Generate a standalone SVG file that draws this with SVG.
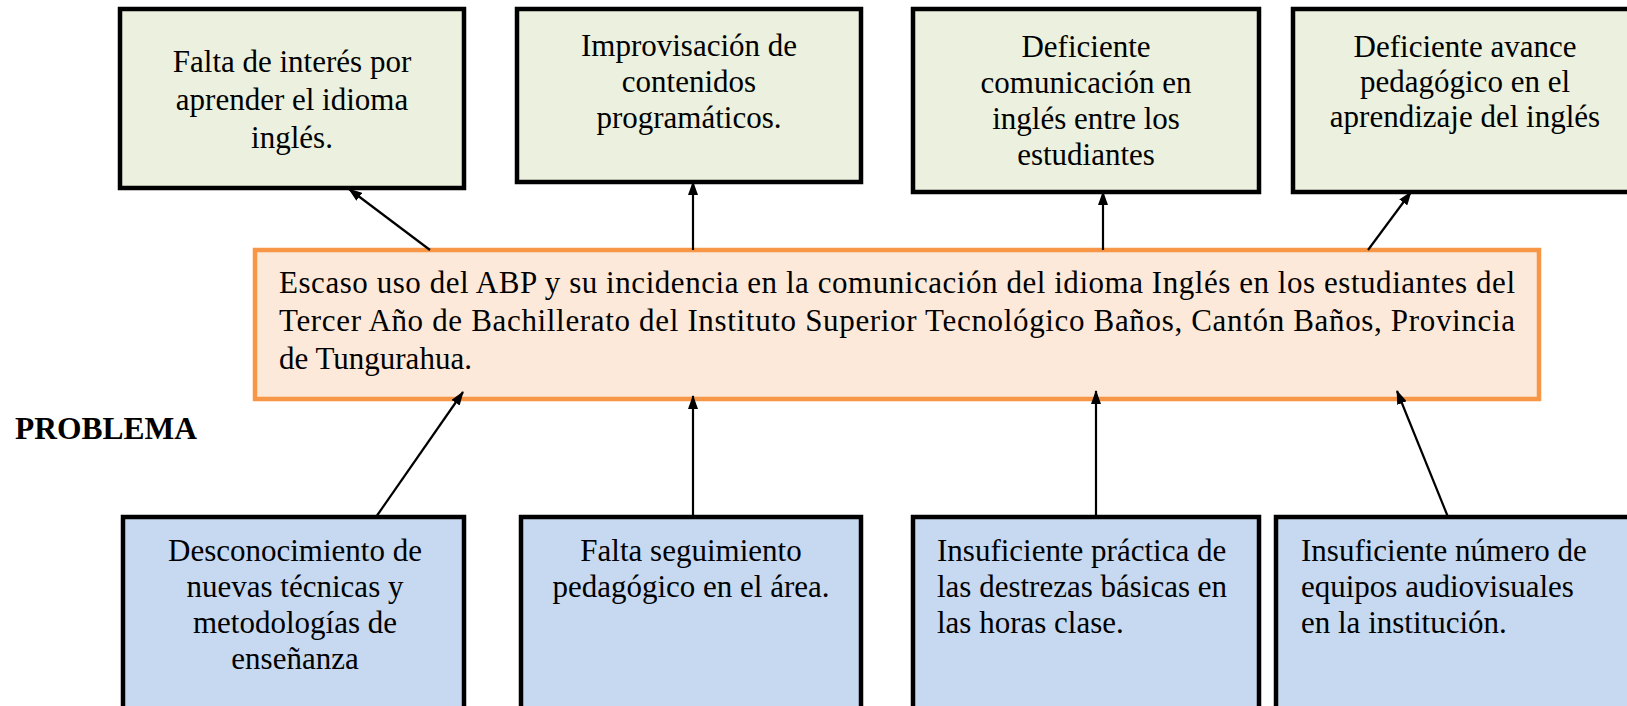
<svg xmlns="http://www.w3.org/2000/svg" width="1627" height="706" viewBox="0 0 1627 706">
<style>
text{font-family:"Liberation Serif","Times New Roman",serif;font-size:31px;fill:#000}
.eff{fill:#EBF1DE;stroke:#000;stroke-width:4.5}
.cau{fill:#C6D9F1;stroke:#000;stroke-width:4.5}
.prob{fill:#FDE9D9;stroke:#F79646;stroke-width:4.5}
.c{text-anchor:middle}
.conn line{stroke:#000;stroke-width:2.2;marker-end:url(#ah)}
</style>
<defs>
<marker id="ah" viewBox="0 0 14 10" refX="13" refY="5" markerWidth="14" markerHeight="10" markerUnits="userSpaceOnUse" orient="auto"><path d="M0,0 L14,5 L0,10 z" fill="#000"/></marker>
</defs>
<rect width="1627" height="706" fill="#fff"/>
<g id="efecto1"><rect class="eff" x="120" y="9" width="344" height="179"/>
<text class="c" x="292" y="72">Falta de interés por</text><text class="c" x="292" y="110">aprender el idioma</text><text class="c" x="292" y="148">inglés.</text></g>
<g id="efecto2"><rect class="eff" x="517" y="9" width="344" height="173"/>
<text class="c" x="689" y="56">Improvisación de</text><text class="c" x="689" y="92">contenidos</text><text class="c" x="689" y="128">programáticos.</text></g>
<g id="efecto3"><rect class="eff" x="913" y="9" width="346" height="183"/>
<text class="c" x="1086" y="57">Deficiente</text><text class="c" x="1086" y="93">comunicación en</text><text class="c" x="1086" y="129">inglés entre los</text><text class="c" x="1086" y="165">estudiantes</text></g>
<g id="efecto4"><rect class="eff" x="1293" y="9" width="340" height="183"/>
<text class="c" x="1465" y="57">Deficiente avance</text><text class="c" x="1465" y="92">pedagógico en el</text><text class="c" x="1465" y="127">aprendizaje del inglés</text></g>
<g id="problema"><rect class="prob" x="255" y="250" width="1284" height="149"/>
<text x="279" y="293" textLength="1236" lengthAdjust="spacing">Escaso uso del ABP y su incidencia en la comunicación del idioma Inglés en los estudiantes del</text>
<text x="279" y="331" textLength="1236" lengthAdjust="spacing">Tercer Año de Bachillerato del Instituto Superior Tecnológico Baños, Cantón Baños, Provincia</text>
<text x="279" y="369">de Tungurahua.</text></g>
<g id="etiqueta"><text x="15" y="439" style="font-weight:bold;font-size:31.5px">PROBLEMA</text></g>
<g id="causa1"><rect class="cau" x="123" y="517" width="341" height="200"/>
<text class="c" x="295" y="561">Desconocimiento de</text><text class="c" x="295" y="597">nuevas técnicas y</text><text class="c" x="295" y="633">metodologías de</text><text class="c" x="295" y="669">enseñanza</text></g>
<g id="causa2"><rect class="cau" x="521" y="517" width="340" height="200"/>
<text class="c" x="691" y="561">Falta seguimiento</text><text class="c" x="691" y="597">pedagógico en el área.</text></g>
<g id="causa3"><rect class="cau" x="913" y="517" width="346" height="200"/>
<text x="937" y="561">Insuficiente práctica de</text><text x="937" y="597">las destrezas básicas en</text><text x="937" y="633">las horas clase.</text></g>
<g id="causa4"><rect class="cau" x="1276" y="517" width="360" height="200"/>
<text x="1301" y="561">Insuficiente número de</text><text x="1301" y="597">equipos audiovisuales</text><text x="1301" y="633">en la institución.</text></g>
<g id="conectores" class="conn">
<line x1="430" y1="250" x2="349" y2="189"/>
<line x1="693" y1="250" x2="693" y2="182"/>
<line x1="1103" y1="250" x2="1103" y2="192"/>
<line x1="1368" y1="250" x2="1411" y2="192"/>
<line x1="376" y1="517" x2="463" y2="392"/>
<line x1="693" y1="517" x2="693" y2="396"/>
<line x1="1096" y1="517" x2="1096" y2="391"/>
<line x1="1448" y1="517" x2="1397" y2="391"/>
</g>
</svg>
